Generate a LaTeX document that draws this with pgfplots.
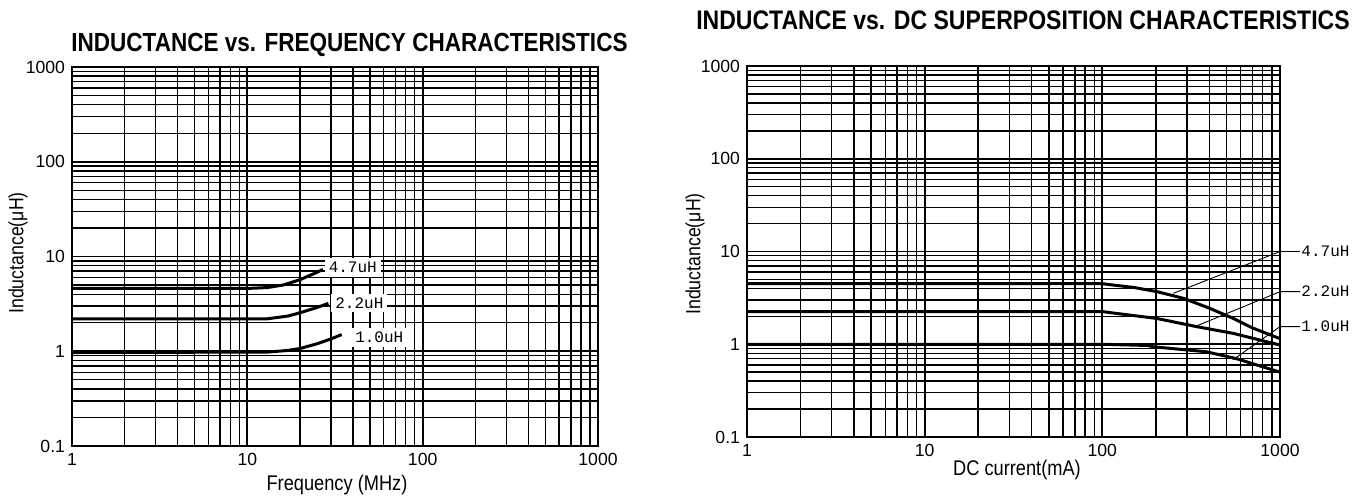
\documentclass[border=0pt]{standalone}
\usepackage{fontspec}
\setmainfont{Liberation Sans}
\newfontfamily\condf{Liberation Sans}[FakeStretch=0.86]
\newfontfamily\monof{Liberation Mono}
\usepackage{pgfplots}
\pgfplotsset{compat=1.18}
\pgfplotsset{
  every axis/.append style={
    xmin=1, xmax=1000, ymin=0.1, ymax=1000,
    scale only axis, anchor=south west, clip=false,
    xtick={1,10,100,1000}, xticklabels={1,10,100,1000},
    ytick={0.1,1,10,100,1000}, yticklabels={0.1,1,10,100,1000},
    minor xtick={2,3,4,5,6,7,8,9,20,30,40,50,60,70,80,90,200,300,400,500,600,700,800,900},
    minor ytick={0.2,0.3,0.4,0.5,0.6,0.7,0.8,0.9,2,3,4,5,6,7,8,9,20,30,40,50,60,70,80,90,200,300,400,500,600,700,800,900},
    grid=both,
    major grid style={black, line width=0.9pt},
    minor grid style={black, line width=0.7pt},
    axis line style={black, line width=0.9pt},
    major tick length=0pt, minor tick length=0pt,
    tick label style={font=\fontsize{8.8}{10}\selectfont},
    /pgf/number format/assume math mode=true,
  },
}
\tikzset{thickcurve/.style={black, line width=1.5pt}}
\begin{document}
\begin{tikzpicture}
\path[use as bounding box] (0,0) rectangle (682.5pt,247.5pt);

% ---------------- Left: inductance vs frequency
\begin{loglogaxis}[at={(36pt,24.5pt)}, width=263pt, height=189.5pt]
\addplot[thickcurve, mark=none] coordinates {(1,4.6) (10,4.6) (13,4.7) (16,5.0) (20,5.7) (24,6.6) (27,7.3)};
\addplot[thickcurve, mark=none] coordinates {(1,2.2) (13,2.2) (17,2.35) (20,2.55) (25,2.9) (29,3.2)};
\addplot[thickcurve, mark=none] coordinates {(1,0.97) (13,0.98) (17,1.02) (20,1.07) (25,1.2) (30,1.35) (34.5,1.5)};
\node[anchor=west, fill=white, inner sep=2pt, font=\monof\fontsize{8}{9}\selectfont] at (axis cs:27.5,7.7) {4.7uH};
\node[anchor=west, fill=white, inner sep=2pt, font=\monof\fontsize{8}{9}\selectfont] at (axis cs:30,3.23) {2.2uH};
\node[anchor=west, fill=white, inner sep=2pt, inner xsep=5pt, font=\monof\fontsize{8}{9}\selectfont] at (axis cs:36,1.41) {1.0uH};
\end{loglogaxis}

% ---------------- Right: inductance vs DC current
\begin{loglogaxis}[at={(373.5pt,29pt)}, width=266.5pt, height=185.5pt]
\addplot[thickcurve, mark=none] coordinates {(1,4.5) (100,4.5) (115,4.35) (150,4.1) (202,3.7) (286,3.13) (400,2.45) (546,1.9) (700,1.5) (1000,1.15)};
\addplot[thickcurve, mark=none] coordinates {(1,2.25) (100,2.25) (120,2.15) (202,1.9) (339,1.55) (546,1.31) (1000,0.98)};
\addplot[thickcurve, mark=none] coordinates {(1,1.0) (100,1.0) (180,0.97) (193,0.94) (385,0.83) (569,0.70) (1000,0.50)};
\draw[line width=0.45pt] (axis cs:251,3.54) -- (axis cs:1000,10) -- ([xshift=10pt]axis cs:1000,10)
  node[anchor=west, inner sep=0.5pt, font=\monof\fontsize{8}{9}\selectfont] {4.7uH};
\draw[line width=0.45pt] (axis cs:332,1.55) -- (axis cs:1000,3.69) -- ([xshift=10pt]axis cs:1000,3.69)
  node[anchor=west, inner sep=0.5pt, font=\monof\fontsize{8}{9}\selectfont] {2.2uH};
\draw[line width=0.45pt] (axis cs:543,0.68) -- (axis cs:1000,1.55) -- ([xshift=10pt]axis cs:1000,1.55)
  node[anchor=west, inner sep=0.5pt, font=\monof\fontsize{8}{9}\selectfont] {1.0uH};
\end{loglogaxis}

% titles and axis labels
\node[font=\condf\bfseries\fontsize{13.1}{15}\selectfont] at (174.75pt,225pt) {INDUCTANCE vs. FREQUENCY CHARACTERISTICS};
\node[font=\condf\bfseries\fontsize{13.4}{15}\selectfont] at (511.5pt,237.5pt) {INDUCTANCE vs. DC SUPERPOSITION CHARACTERISTICS};
\node[rotate=90, font=\condf\fontsize{10.3}{11}\selectfont] at (9pt,121pt) {Inductance(μH)};
\node[rotate=90, font=\condf\fontsize{10.3}{11}\selectfont] at (347.5pt,120.5pt) {Inductance(μH)};
\node[font=\condf\fontsize{10.6}{11}\selectfont] at (168.5pt,5pt) {Frequency (MHz)};
\node[font=\condf\fontsize{10.6}{11}\selectfont] at (508.5pt,12.5pt) {DC current(mA)};
\end{tikzpicture}
\end{document}
